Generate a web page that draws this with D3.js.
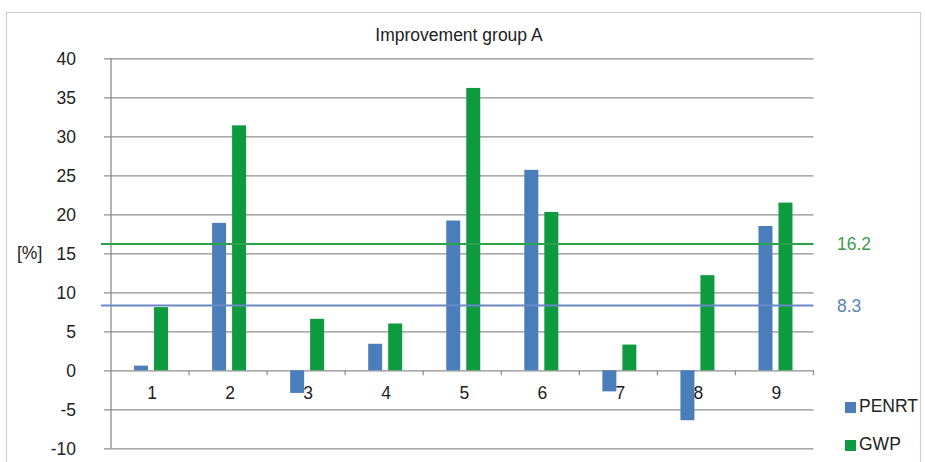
<!DOCTYPE html>
<html>
<head>
<meta charset="utf-8">
<script src="https://cdn.jsdelivr.net/npm/d3@7"></script>
<style>
  html, body { margin: 0; padding: 0; background: #fff; }
  svg { display: block; font-family: "Liberation Sans", Arial, sans-serif; }
</style>
</head>
<body>
<svg id="chart" width="925" height="462"></svg>
<script>
// Improvement group A: change in PENRT and GWP per measure, in percent
const categories = ["1", "2", "3", "4", "5", "6", "7", "8", "9"];
const seriesNames = ["PENRT", "GWP"];
const penrt = [0.6, 18.9, -2.9, 3.4, 19.2, 25.7, -2.7, -6.4, 18.5];
const gwp = [8.1, 31.4, 6.6, 6.0, 36.2, 20.3, 3.3, 12.2, 21.5];
// group averages shown as horizontal reference lines
const averageValues = [8.3, 16.2];
const averageLabels = ["8.3", "16.2"];
const yTicks = [-10, -5, 0, 5, 10, 15, 20, 25, 30, 35, 40];

const colors = { PENRT: "#4a7ebb", GWP: "#0e9a3e" };
const lineColors = { PENRT: "#6a88c6", GWP: "#2ca24a" };
const textColors = { PENRT: "#5b84b6", GWP: "#3f9a4f" };

const rows = categories.map((c, i) => ({ cat: c, PENRT: penrt[i], GWP: gwp[i] }));

const svg = d3.select("#chart");
const left = 111, right = 813.5;

const x0 = d3.scaleBand().domain(categories).range([left, right]).paddingInner(0).paddingOuter(0);
const bw = x0.bandwidth();
const x1 = d3.scaleBand().domain(seriesNames)
  .range([bw / 2 - 16, bw / 2 + 18]).paddingInner(0.3).paddingOuter(0);
const y = d3.scaleLinear().domain([-10, 40]).range([448.3, 58.3]);

// outer frame
svg.append("rect")
  .attr("x", 6.5).attr("y", 12.5).attr("width", 914).attr("height", 470)
  .attr("fill", "none").attr("stroke", "#cfcfcf").attr("stroke-width", 1.2);

// title
svg.append("text")
  .attr("x", 459).attr("y", 40.5)
  .attr("text-anchor", "middle")
  .attr("font-size", 17.5).attr("fill", "#222")
  .text("Improvement group A");

// horizontal grid + y axis
const yAxis = d3.axisLeft(y).tickValues(yTicks).tickSize(-(right - left) - 7).tickPadding(20)
  .tickFormat(d => String(d));
const gy = svg.append("g").attr("transform", `translate(${left - 7},0)`).call(yAxis);
gy.select(".domain").remove();
gy.selectAll(".tick line")
  .attr("x1", 0).attr("x2", right - left + 7)
  .attr("stroke", "#8f8f8f").attr("stroke-width", 1.3);
gy.selectAll(".tick text")
  .attr("x", -(111 - 76 - 7)).attr("dy", "0.34em")
  .attr("font-size", 17.5).attr("fill", "#222")
  .attr("font-family", "'Liberation Sans', Arial, sans-serif");

// vertical value axis line
svg.append("line")
  .attr("x1", left).attr("x2", left)
  .attr("y1", y(40)).attr("y2", y(-10))
  .attr("stroke", "#8a8a8a").attr("stroke-width", 1.3);

// y axis caption
svg.append("text")
  .attr("x", 17).attr("y", y(15)).attr("dy", "0.34em")
  .attr("font-size", 17.5).attr("fill", "#222")
  .text("[%]");

// boundary ticks on the zero line
const bounds = categories.slice(1).map(c => x0(c)).concat([right]);
svg.append("g").selectAll("line").data(bounds).join("line")
  .attr("x1", d => d).attr("x2", d => d)
  .attr("y1", y(0)).attr("y2", y(0) + 5)
  .attr("stroke", "#8a8a8a").attr("stroke-width", 1.2);

// bars
const groups = svg.append("g").selectAll("g").data(rows).join("g")
  .attr("transform", d => `translate(${x0(d.cat)},0)`);
groups.selectAll("rect")
  .data(d => seriesNames.map(s => ({ s, v: d[s] })))
  .join("rect")
  .attr("x", d => x1(d.s))
  .attr("width", x1.bandwidth())
  .attr("y", d => y(Math.max(0, d.v)))
  .attr("height", d => Math.abs(y(d.v) - y(0)))
  .attr("fill", d => colors[d.s]);

// category labels, drawn above the bars
const xAxis = d3.axisBottom(x0).tickSize(0).tickPadding(20);
const gx = svg.append("g").attr("transform", `translate(0,${y(0)})`).call(xAxis);
gx.select(".domain").remove();
gx.selectAll(".tick text")
  .attr("font-size", 17.5).attr("fill", "#222")
  .attr("font-family", "'Liberation Sans', Arial, sans-serif")
  .attr("dy", "0.5em")
  .attr("dx", 2);

// average lines with value labels
seriesNames.forEach((s, i) => {
  svg.append("line")
    .attr("x1", 101).attr("x2", right)
    .attr("y1", y(averageValues[i])).attr("y2", y(averageValues[i]))
    .attr("stroke", lineColors[s]).attr("stroke-width", 2);
  svg.append("text")
    .attr("x", 837).attr("y", y(averageValues[i])).attr("dy", "0.36em")
    .attr("font-size", 17.5).attr("fill", textColors[s])
    .text(averageLabels[i]);
});

// legend
const legend = svg.append("g").selectAll("g").data(seriesNames).join("g")
  .attr("transform", (d, i) => `translate(845,${402 + i * 38})`);
legend.append("rect").attr("width", 11).attr("height", 11).attr("fill", d => colors[d]);
legend.append("text")
  .attr("x", 14).attr("y", 10)
  .attr("font-size", 17.5).attr("fill", "#222")
  .text(d => d);
</script>
</body>
</html>
